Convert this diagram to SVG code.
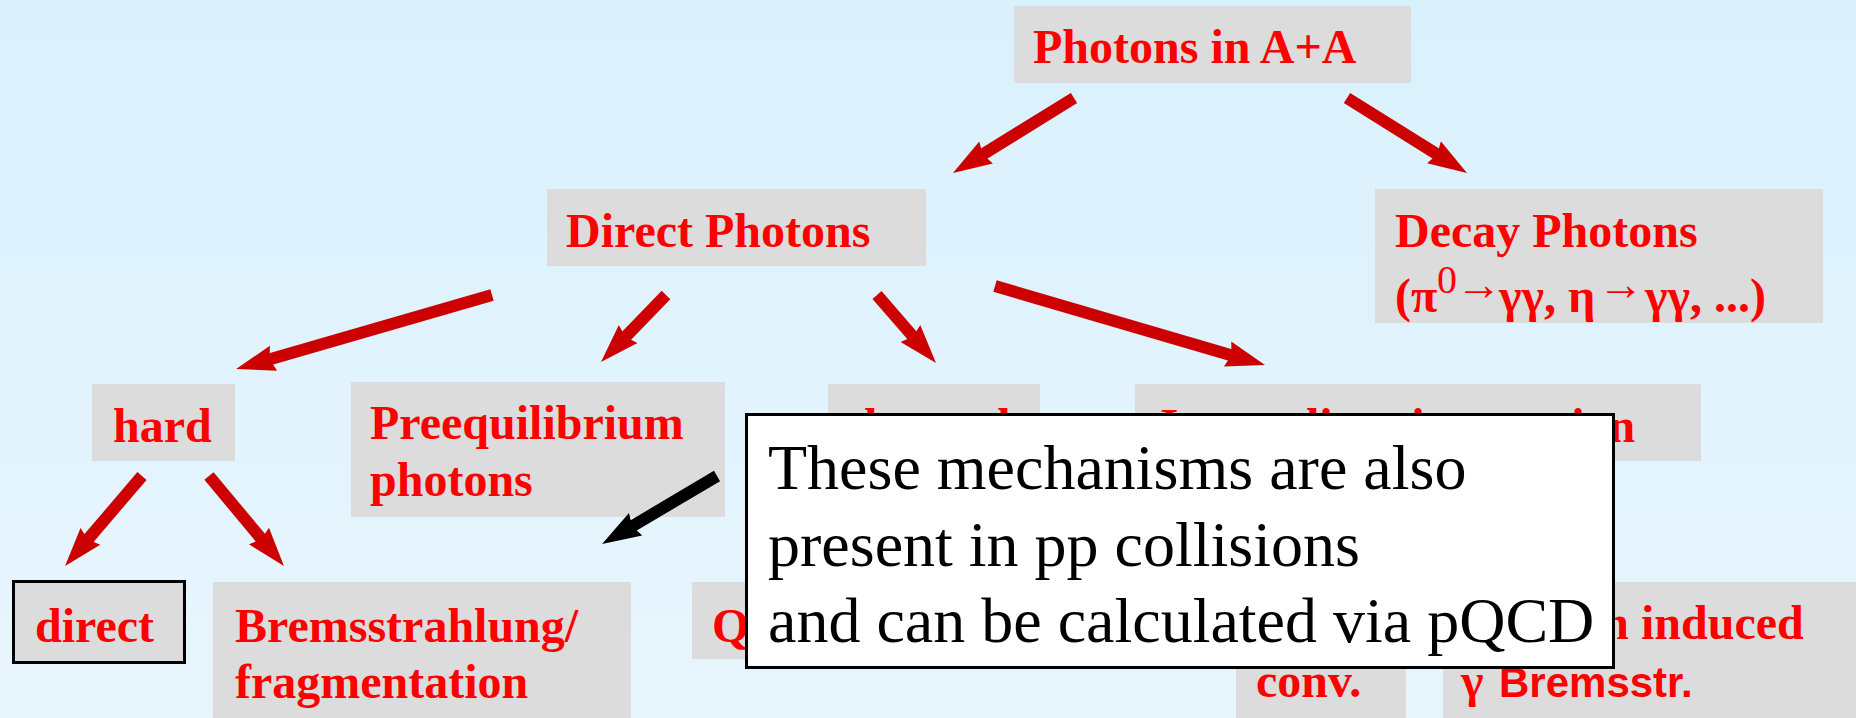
<svg xmlns="http://www.w3.org/2000/svg" width="1856" height="718" viewBox="0 0 1856 718">
<defs>
<linearGradient id="bg" x1="0" y1="0" x2="0" y2="1">
<stop offset="0" stop-color="#d9f1fd"/>
<stop offset="1" stop-color="#e9f5fd"/>
</linearGradient>
<marker id="ar" markerUnits="userSpaceOnUse" markerWidth="44" markerHeight="30" viewBox="0 -15 44 30" refX="10" refY="0" orient="auto">
<path d="M39,0 L0,-13 L4,0 L0,13 Z" fill="#cc0000"/>
</marker>
<marker id="ab" markerUnits="userSpaceOnUse" markerWidth="44" markerHeight="30" viewBox="0 -15 44 30" refX="10" refY="0" orient="auto">
<path d="M39,0 L0,-13 L4,0 L0,13 Z" fill="#000000"/>
</marker>
</defs>
<style>
.box{fill:#dcdcdc}
.t{font-family:"Liberation Serif","Times New Roman",serif;font-weight:bold;font-size:48px;fill:#ff0000}
.s{font-family:"Liberation Sans",Arial,sans-serif;font-weight:bold;font-size:42px;fill:#ff0000}
.c{font-family:"Liberation Serif","Times New Roman",serif;font-size:64px;fill:#000000}
.r{stroke:#cc0000;stroke-width:12;fill:none;marker-end:url(#ar)}
.k{stroke:#000000;stroke-width:12;fill:none;marker-end:url(#ab)}
</style>
<rect x="0" y="0" width="1856" height="718" fill="url(#bg)"/>

<g id="photons-aa">
<rect class="box" x="1014" y="6" width="397" height="77"/>
<text class="t" x="1033" y="63">Photons in A+A</text>
</g>
<g id="direct-photons">
<rect class="box" x="547" y="189" width="379" height="77"/>
<text class="t" x="566" y="247">Direct Photons</text>
</g>
<g id="decay-photons">
<rect class="box" x="1375" y="189" width="448" height="134"/>
<text class="t" x="1395" y="247">Decay Photons</text>
<text class="t" y="312"><tspan x="1395">(π</tspan><tspan x="1437" y="293" font-size="40" font-weight="normal">0</tspan><tspan x="1456" y="300" font-size="46" font-weight="normal">→</tspan><tspan x="1499" y="312">γγ, η</tspan><tspan x="1598" y="300" font-size="46" font-weight="normal">→</tspan><tspan x="1645" y="312">γγ, ...)</tspan></text>
</g>
<g id="hard">
<rect class="box" x="92" y="384" width="143" height="77"/>
<text class="t" x="113" y="442">hard</text>
</g>
<g id="preequilibrium">
<rect class="box" x="351" y="382" width="374" height="135"/>
<text class="t" x="370" y="439">Preequilibrium</text>
<text class="t" x="370" y="496">photons</text>
</g>
<g id="thermal">
<rect class="box" x="828" y="384" width="212" height="77"/>
<text class="t" x="848" y="442">thermal</text>
</g>
<g id="jet-medium">
<rect class="box" x="1135" y="384" width="566" height="77"/>
<text class="t" x="1154" y="442">Jet-medium interaction</text>
</g>
<g id="direct">
<rect class="box" x="13.5" y="581.5" width="171" height="81" stroke="#000" stroke-width="3"/>
<text class="t" x="35" y="642">direct</text>
</g>
<g id="bremsstrahlung">
<rect class="box" x="213" y="582" width="418" height="136"/>
<text class="t" x="235" y="642">Bremsstrahlung/</text>
<text class="t" x="235" y="698">fragmentation</text>
</g>
<g id="qgp">
<rect class="box" x="692" y="582" width="170" height="77"/>
<text class="t" x="712" y="642">QGP</text>
</g>
<g id="jet-photon-conv">
<rect class="box" x="1236" y="582" width="170" height="136"/>
<text class="t" x="1256" y="697">conv.</text>
</g>
<g id="medium-induced">
<rect class="box" x="1443" y="582" width="413" height="136"/>
<text class="t" x="1461" y="639">medium induced</text>
<text y="697"><tspan class="t" x="1461">γ</tspan><tspan class="s" x="1499">Bremsstr.</tspan></text>
</g>

<g id="connectors">
<line class="r" x1="1074" y1="98" x2="977.6" y2="157.7"/>
<line class="r" x1="1347" y1="98" x2="1442.4" y2="157.6"/>
<line class="r" x1="492" y1="295" x2="263.9" y2="361"/>
<line class="r" x1="666" y1="295" x2="621.2" y2="341.2"/>
<line class="r" x1="877" y1="295" x2="917" y2="341.1"/>
<line class="r" x1="995" y1="286" x2="1237.2" y2="356.9"/>
<line class="r" x1="142" y1="476" x2="83.9" y2="544"/>
<line class="r" x1="209" y1="476" x2="265.4" y2="543.7"/>
<line class="k" x1="717" y1="476" x2="627" y2="529.3"/>
</g>

<g id="callout">
<rect x="746.5" y="414.5" width="867" height="253" fill="#ffffff" stroke="#000000" stroke-width="3"/>
<text class="c" x="768" y="489">These mechanisms are also</text>
<text class="c" x="768" y="566">present in pp collisions</text>
<text class="c" x="768" y="642">and can be calculated via pQCD</text>
</g>
</svg>
